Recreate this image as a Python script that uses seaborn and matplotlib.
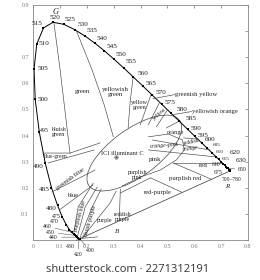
import matplotlib
matplotlib.use("Agg")
import matplotlib.pyplot as plt
import numpy as np
import pandas as pd
import seaborn as sns
from matplotlib.patches import Ellipse

# ---------------- data ----------------
wavelengths = [380, 385, 390, 395, 400, 405, 410, 415, 420, 425, 430, 435, 440, 445,
               450, 455, 460, 465, 470, 475, 480, 485, 490, 495, 500, 505, 510, 515,
               520, 525, 530, 535, 540, 545, 550, 555, 560, 565, 570, 575, 580, 585,
               590, 595, 600, 605, 610, 615, 620, 625, 630, 635, 640, 645, 650, 655,
               660, 665, 670, 675, 680, 690, 700]
locus_x = [0.1741, 0.1740, 0.1738, 0.1736, 0.1733, 0.1730, 0.1726, 0.1721, 0.1714, 0.1703,
           0.1689, 0.1669, 0.1644, 0.1611, 0.1566, 0.1510, 0.1440, 0.1355, 0.1241, 0.1096,
           0.0913, 0.0687, 0.0454, 0.0235, 0.0082, 0.0039, 0.0139, 0.0389, 0.0743, 0.1142,
           0.1547, 0.1929, 0.2296, 0.2658, 0.3016, 0.3373, 0.3731, 0.4087, 0.4441, 0.4788,
           0.5125, 0.5448, 0.5752, 0.6029, 0.6270, 0.6482, 0.6658, 0.6801, 0.6915, 0.7006,
           0.7079, 0.7140, 0.7190, 0.7230, 0.7260, 0.7283, 0.7300, 0.7311, 0.7320, 0.7327,
           0.7334, 0.7344, 0.7347]
locus_y = [0.0050, 0.0050, 0.0049, 0.0049, 0.0048, 0.0048, 0.0048, 0.0048, 0.0051, 0.0058,
           0.0069, 0.0086, 0.0109, 0.0138, 0.0177, 0.0227, 0.0297, 0.0399, 0.0578, 0.0868,
           0.1327, 0.2007, 0.2950, 0.4127, 0.5384, 0.6548, 0.7502, 0.8120, 0.8338, 0.8262,
           0.8059, 0.7816, 0.7543, 0.7243, 0.6923, 0.6589, 0.6245, 0.5896, 0.5547, 0.5202,
           0.4866, 0.4544, 0.4242, 0.3965, 0.3725, 0.3514, 0.3340, 0.3197, 0.3083, 0.2993,
           0.2920, 0.2859, 0.2809, 0.2770, 0.2740, 0.2717, 0.2700, 0.2689, 0.2680, 0.2673,
           0.2666, 0.2656, 0.2653]

# labelled wavelengths
labelled_nm = [400, 420, 430, 440, 450, 460, 470, 475, 480, 485, 490, 495, 500, 505, 510,
               515, 520, 525, 530, 535, 540, 545, 550, 555, 560, 565, 570, 575, 580, 585,
               590, 595, 600, 605, 610, 615, 620, 630, 640, 650, 675]

illuminant_c = (0.3101, 0.3162)

# region boundary lines (chromaticity x, y)
boundary_lines = {
    "bluish_green_green": [(0.078, 0.831), (0.101, 0.651), (0.123, 0.460), (0.138, 0.330)],
    "green_yellowish_green": [(0.160, 0.805), (0.220, 0.651), (0.265, 0.517), (0.299, 0.395)],
    "yellowish_green_yellow_green": [(0.373, 0.625), (0.362, 0.536), (0.354, 0.429)],
    "yellow_green_greenish_yellow": [(0.440, 0.559), (0.399, 0.441)],
    "greenish_yellow_yellow": [(0.470, 0.525), (0.429, 0.441)],
    "yellow_yellowish_orange": [(0.500, 0.498), (0.459, 0.433)],
    "yellowish_orange_orange": [(0.545, 0.456), (0.496, 0.429)],
    "orange_reddish_orange": [(0.612, 0.387), (0.560, 0.391)],
    "reddish_orange_orange_pink": [(0.657, 0.345), (0.444, 0.383)],
    "orange_pink_pink": [(0.683, 0.318), (0.429, 0.345)],
    "pink_red": [(0.705, 0.295), (0.522, 0.295)],
    "red_purplish_red": [(0.522, 0.295), (0.664, 0.2325)],
    "purplish_red_red_purple": [(0.437, 0.238), (0.556, 0.182)],
    "purplish_pink_red_purple": [(0.325, 0.180), (0.437, 0.238)],
    "pink_outline": [(0.429, 0.395), (0.504, 0.406), (0.556, 0.383), (0.563, 0.345),
                     (0.534, 0.307), (0.474, 0.268), (0.399, 0.241), (0.332, 0.207)],
    "bluish_green_blue_green": [(0.037, 0.333), (0.138, 0.333), (0.250, 0.372)],
    "blue_green_greenish_blue": [(0.056, 0.295), (0.228, 0.345)],
    "greenish_blue_blue": [(0.070, 0.184), (0.231, 0.268)],
    "blue_purplish_blue": [(0.098, 0.115), (0.224, 0.211)],
    "purplish_blue_left": [(0.151, 0.023), (0.168, 0.126), (0.224, 0.218)],
    "purplish_blue_bluish_purple": [(0.164, 0.008), (0.194, 0.126), (0.239, 0.203)],
    "bluish_purple_purple": [(0.175, 0.008), (0.220, 0.126), (0.254, 0.195)],
    "purple_reddish_purple": [(0.183, 0.008), (0.287, 0.142), (0.310, 0.188)],
    "reddish_purple_red_purple": [(0.325, 0.195), (0.321, 0.073)],
}

# white (illuminant C) region ellipse: centre, width, height, angle
white_center = (0.377, 0.333)
white_width = 0.42
white_height = 0.18
white_angle = 37

region_names = ["G", "green", "yellowish\ngreen", "bluish\ngreen", "blue-green",
                "greenish blue", "blue", "purplish blue", "bluish purple", "purple",
                "reddish\npurple", "ICI illuminant C", "yellow\ngreen", "yellow", "orange",
                "reddish", "orange", "orange-pink", "pink", "red", "purplish\npink",
                "purplish red", "red-purple", "greenish yellow", "yellowish orange",
                "700\u2013780", "R", "B"]

x_ticks = [0, 0.1, 0.2, 0.3, 0.4, 0.5, 0.6, 0.7, 0.8]
x_tick_labels = ["0", "0.1", "0.2", "0.3", "0.4", "0.5", "0.6", "0.7", "0.8"]
y_ticks = [0, 0.1, 0.2, 0.3, 0.4, 0.5, 0.6, 0.7, 0.8, 0.9]
y_tick_labels = ["", "0.1", "0.2", "0.3", "0.4", "0.5", "0.6", "0.7", "", "0.9"]

# ---------------- layout / style ----------------
sns.set_style("white")
plt.rcParams["font.family"] = ["Liberation Serif", "DejaVu Serif"]

W, H = 260, 280
fig = plt.figure(figsize=(W / 100, H / 100), dpi=100)
ax = fig.add_axes([33 / W, 1 - 240 / H, 215 / W, 235 / H])

locus = pd.DataFrame({"nm": wavelengths, "x": locus_x, "y": locus_y})
sns.lineplot(data=locus, x="x", y="y", sort=False, estimator=None, color="black",
             lw=0.7, ax=ax)
# line of purples
purple = locus.iloc[[0, -1]]
sns.lineplot(data=purple, x="x", y="y", sort=False, estimator=None, color="#333333",
             lw=0.5, ax=ax)

marks = locus[locus["nm"].isin(labelled_nm + [435, 445, 455, 465, 625, 635, 645, 660, 670, 700])]
sns.scatterplot(data=marks, x="x", y="y", marker="s", s=3, color="black",
                edgecolor="black", linewidth=0, ax=ax, zorder=5)

line_kw = dict(color="#444444", lw=0.45)
for name, pts in boundary_lines.items():
    pts = np.array(pts)
    ax.plot(pts[:, 0], pts[:, 1], **line_kw)

ax.add_patch(Ellipse(white_center, white_width, white_height, angle=white_angle,
                     fill=False, edgecolor="#444444", lw=0.5))
ax.plot(*illuminant_c, marker="o", ms=2.5, mfc="none", mec="#444444", mew=0.4)
ax.plot(*illuminant_c, marker="o", ms=0.6, color="#444444")

# wavelength labels: (offset px, ha)
wl_fs = 5.2
wl_pos = {
    515: (-1, 4, "right"), 520: (2, 5, "center"), 525: (1, 5, "left"), 530: (3, 5, "left"),
    535: (2, 5, "left"), 540: (2, 5, "left"), 545: (2, 4, "left"), 550: (1, 5, "left"),
    555: (2, 6, "left"), 560: (4, 3, "left"), 565: (3, 3, "left"), 570: (3, 3, "left"),
    575: (3, 2, "left"), 580: (6, 3, "left"), 585: (6, 3, "left"), 590: (3, 1, "left"),
    595: (3, 1, "left"), 600: (3, 3, "left"), 605: (6, 3, "left"), 610: (4, 1, "left"),
    615: (6, -2, "left"), 620: (11, 7, "left"), 630: (13, 3, "left"), 640: (-6, 2, "right"),
    650: (10, -1, "left"), 675: (-7, -2, "right"),
    510: (2, 1, "left"), 505: (3, 1, "left"), 500: (2, 0, "left"), 495: (1, 2, "left"),
    490: (-2, -4, "right"), 485: (-2, -2, "right"), 480: (-1, -3, "right"),
    475: (-2, 1, "right"), 470: (-8, 3, "right"), 460: (-20, 6, "right"),
    450: (-20, 3, "right"), 440: (-19, 0, "right"), 430: (-8, -8, "center"),
    420: (-1, -16, "center"), 400: (11, -12, "center"),
}
small = {495, 475, 470, 460, 450, 440, 430, 420, 400, 640, 650, 675}
tiny = {605, 610, 615}
leader = {460, 450, 440, 430, 420, 400, 650}
for nm in labelled_nm:
    dx, dy, ha = wl_pos[nm]
    row = locus[locus["nm"] == nm].iloc[0]
    fs = 3.8 if nm in tiny else (4.2 if nm in small else wl_fs)
    props = dict(arrowstyle="-", color="#444444", lw=0.35, shrinkA=0, shrinkB=0) if nm in leader else None
    ax.annotate(str(nm), xy=(row.x, row.y), xytext=(dx, dy), textcoords="offset pixels",
                ha=ha, va="center", fontsize=fs, color="#222222", annotation_clip=False,
                arrowprops=props)

# region labels
lab_pos = [
    (0.082, 0.874, 0, 6, "italic"), (0.183, 0.567, 0, 5, "normal"),
    (0.306, 0.567, 0, 5, "normal"), (0.094, 0.414, 0, 4.2, "normal"),
    (0.086, 0.318, 0, 4.0, "normal"), (0.138, 0.232, 36, 4.5, "normal"),
    (0.146, 0.172, 0, 4.5, "normal"), (0.176, 0.092, 74, 4.3, "normal"),
    (0.213, 0.073, 74, 4.5, "normal"), (0.265, 0.073, 0, 4.3, "normal"),
    (0.332, 0.088, 0, 4.2, "normal"), (0.332, 0.333, 0, 4.6, "normal"),
    (0.396, 0.517, 0, 4.4, "normal"), (0.470, 0.483, 40, 4.2, "normal"),
    (0.530, 0.410, 0, 4.6, "normal"), (0.590, 0.376, 12, 4.0, "normal"),
    (0.586, 0.350, 8, 4.0, "italic"), (0.489, 0.362, 4, 4.2, "italic"),
    (0.455, 0.307, 0, 5, "normal"), (0.634, 0.287, 0, 5, "normal"),
    (0.388, 0.249, 0, 4.2, "normal"), (0.567, 0.234, 0, 4.8, "normal"),
    (0.463, 0.180, 0, 4.8, "normal"), (0.530, 0.559, 0, 4.8, "normal"),
    (0.593, 0.494, 0, 4.8, "normal"), (0.739, 0.230, 0, 4.0, "normal"),
    (0.724, 0.203, 0, 5, "italic"), (0.313, 0.031, 0, 5, "italic"),
]
for name, (x, y, rot, fs, st) in zip(region_names, lab_pos):
    ha = "left" if name in ("greenish yellow", "yellowish orange") else "center"
    ax.text(x, y, name, ha=ha, va="center", rotation=rot, fontsize=fs, style=st,
            color="#222222", linespacing=0.95)

# leader lines for outside labels
ax.plot([0.446, 0.528], [0.541, 0.557], **line_kw)
ax.plot([0.52, 0.59], [0.48, 0.492], **line_kw)
ax.plot([0.180, 0.240], [0.006, 0.012], **line_kw)

ax.set_xlim(0, 0.8)
ax.set_ylim(0, 0.9)
ax.set_xticks(x_ticks)
ax.set_xticklabels(x_tick_labels)
ax.set_yticks(y_ticks)
ax.set_yticklabels(y_tick_labels)
ax.set_xlabel("")
ax.set_ylabel("")
ax.tick_params(direction="in", length=2, width=0.5, colors="#777777", labelsize=4.3,
               top=True, right=True, pad=3)
for s in ax.spines.values():
    s.set_color("#888888")
    s.set_linewidth(0.6)

fig.text(128 / W, 1 - 270 / H, "shutterstock.com \u00b7 2271312191", ha="center",
         va="center", fontsize=8, color="#333333", family=["Open Sans", "DejaVu Sans"])

fig.savefig("out.png", dpi=100, facecolor="white")
